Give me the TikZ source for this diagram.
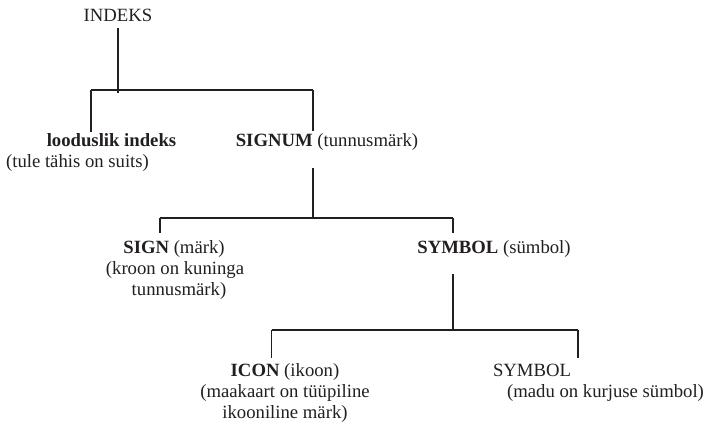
\documentclass[tikz,border=0pt]{standalone}
\usepackage{fontspec}
\setmainfont{Liberation Serif}
\definecolor{ink}{RGB}{35,31,32}
\begin{document}
\begin{tikzpicture}[x=1pt,y=-1pt,
  lbl/.style={anchor=base,inner sep=0pt,outer sep=0pt,text=ink,font=\fontsize{18.7}{21}\selectfont},
  conn/.style={draw=ink,line width=1.1pt}]
\useasboundingbox[fill=white] (0,0) rectangle (707,421);
% level 0
\node[lbl] (indeks) at (118,21) {INDEKS};
% level 1
\node[lbl] (lood) at (111.5,146) {\textbf{looduslik indeks}};
\node[lbl] (loodex) at (77.5,167) {(tule tähis on suits)};
\node[lbl] (signum) at (327,146) {\textbf{SIGNUM} (tunnusmärk)};
% level 2
\node[lbl] (sign) at (174,253) {\textbf{SIGN} (märk)};
\node[lbl] (sign2) at (175,274) {(kroon on kuninga};
\node[lbl] (sign3) at (179,295) {tunnusmärk)};
\node[lbl] (symb) at (494,253) {\textbf{SYMBOL} (sümbol)};
% level 3
\node[lbl] (icon) at (285,376) {\textbf{ICON} (ikoon)};
\node[lbl] (icon2) at (285,397) {(maakaart on tüüpiline};
\node[lbl] (icon3) at (285,418) {ikooniline märk)};
\node[lbl] (symbb) at (532,376) {SYMBOL};
\node[lbl] (symbbex) at (605.5,397) {(madu on kurjuse sümbol)};
% junctions
\coordinate (a0) at (118,28);
\coordinate (a1) at (118,93);
\coordinate (al) at (91,90);
\coordinate (ar) at (313,90);
\coordinate (alb) at (91,132);
\coordinate (arb) at (313,131);
\coordinate (b0) at (313,168);
\coordinate (bl) at (160,218);
\coordinate (br) at (453,218);
\coordinate (blb) at (160,233);
\coordinate (brb) at (453,233);
\coordinate (c0) at (453,274);
\coordinate (cl) at (271.5,330);
\coordinate (cr) at (578,330);
\coordinate (clb) at (271.5,358);
\coordinate (crb) at (578,358);
% connectors
\draw[conn] (a0 -| indeks.south) -- (a1);
\draw[conn] (al) -- (ar);
\draw[conn] (al) -- (alb);
\draw[conn] (ar) -- (arb);
\draw[conn] (b0) -- (b0 |- bl);
\draw[conn] (bl) -- (br);
\draw[conn] (bl) -- (blb);
\draw[conn] (br) -- (brb);
\draw[conn] (c0 -| symb.south) ++(-41,0) -- (453,330);
\draw[conn] (cl) -- (cr);
\draw[conn] (cl) -- (clb);
\draw[conn] (cr) -- (crb);
\end{tikzpicture}
\end{document}
